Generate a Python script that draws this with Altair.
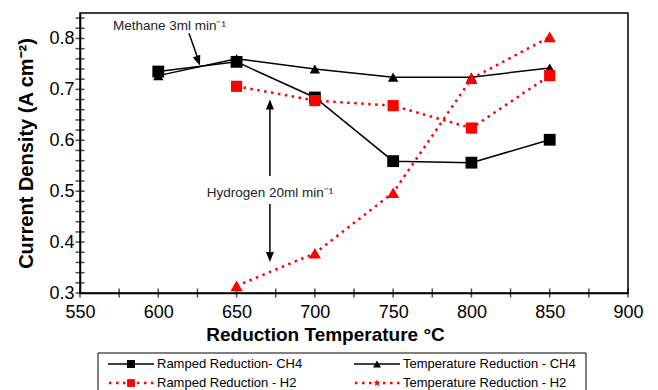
import altair as alt
import pandas as pd

FONT = "Liberation Sans"
RED = "#ff0000"

# ---- data ----
temps_ch4 = [600, 650, 700, 750, 800, 850]
ramped_ch4 = [0.735, 0.754, 0.684, 0.559, 0.556, 0.601]
temp_red_ch4 = [0.727, 0.760, 0.740, 0.724, 0.724, 0.742]
temps_h2 = [650, 700, 750, 800, 850]
ramped_h2 = [0.706, 0.678, 0.668, 0.624, 0.727]
temp_red_h2 = [0.314, 0.378, 0.497, 0.721, 0.803]

x_labels = [550, 600, 650, 700, 750, 800, 850, 900]
y_labels = [0.3, 0.4, 0.5, 0.6, 0.7, 0.8]
x_ticks = [550, 575, 600, 625, 650, 675, 700, 725, 750, 775, 800, 825, 850, 875, 900]
y_ticks = [0.30, 0.32, 0.34, 0.36, 0.38, 0.40, 0.42, 0.44, 0.46, 0.48, 0.50,
           0.52, 0.54, 0.56, 0.58, 0.60, 0.62, 0.64, 0.66, 0.68, 0.70,
           0.72, 0.74, 0.76, 0.78, 0.80, 0.82, 0.84]

legend_labels = ["Ramped Reduction- CH4", "Temperature Reduction - CH4",
                 "Ramped Reduction - H2", "Temperature Reduction - H2"]
legend_cols = [0, 1, 0, 1]
legend_rows = [0, 0, 1, 1]

methane_note = "Methane 3ml min\u207b\u00b9"
hydrogen_note = "Hydrogen 20ml min\u207b\u00b9"

# ---- styles ----
STAR = ("M0,-1L0.235,-0.324L0.951,-0.309L0.380,0.124L0.588,0.809L0,0.4"
        "L-0.588,0.809L-0.380,0.124L-0.951,-0.309L-0.235,-0.324Z")
legend_shape_styles = ["square", "triangle-up", "square", STAR]
legend_color_styles = ["black", "black", RED, RED]
legend_size_styles = [64, 60, 80, 120]
ARROW_UP = "M0,0L-0.4,1L0.4,1Z"

x_enc = alt.X("t:Q", scale=alt.Scale(domain=[550, 900], nice=False, zero=False),
              axis=alt.Axis(orient="bottom", values=x_labels, ticks=False, grid=False,
                            title="Reduction Temperature \u00b0C",
                            labelFontSize=18, labelPadding=10, labelFlush=False,
                            labelOverlap=False, titleFontSize=19, titleFontWeight="bold",
                            titlePadding=4, titleX=245))
y_enc = alt.Y("v:Q", scale=alt.Scale(domain=[0.3, 0.85], nice=False, zero=False),
              axis=alt.Axis(orient="left", values=y_labels, format=".1f", ticks=False, grid=False,
                            title="Current Density (A cm\u207b\u00b2)",
                            labelFontSize=18, labelPadding=6, labelFlush=False,
                            labelOverlap=False, titleFontSize=20, titleFontWeight="bold",
                            titlePadding=12))


def sdf(ts, vs):
    return pd.DataFrame({"t": ts, "v": vs})


def solid_line(df):
    return alt.Chart(df).mark_line(color="black", strokeWidth=1.5).encode(x=x_enc, y=y_enc)


def dotted_line(df):
    return alt.Chart(df).mark_line(color=RED, strokeWidth=2.5, strokeDash=[2.5, 4.5],
                                   strokeCap="butt").encode(x=x_enc, y=y_enc)


def pts(df, shape, color, size):
    return alt.Chart(df).mark_point(shape=shape, filled=True, color=color, size=size,
                                    opacity=1, strokeWidth=0).encode(x=x_enc, y=y_enc)


d_tc = sdf(temps_ch4, temp_red_ch4)
d_rc = sdf(temps_ch4, ramped_ch4)
d_rh = sdf(temps_h2, ramped_h2)
d_th = sdf(temps_h2, temp_red_h2)

# crossing ticks on the axes
yt = alt.Chart(pd.DataFrame({"t": [550] * len(y_ticks), "v": y_ticks})).mark_tick(
    orient="horizontal", size=9, thickness=1.5, color="black").encode(x=x_enc, y=y_enc)
xt = alt.Chart(pd.DataFrame({"t": x_ticks, "v": [0.3] * len(x_ticks)})).mark_tick(
    orient="vertical", size=9, thickness=1.5, color="black").encode(x=x_enc, y=y_enc)

# annotations
note_left = alt.Chart(pd.DataFrame({"t": [571], "v": [0.8235], "note": [methane_note]})).mark_text(
    align="left", baseline="middle", font=FONT, fontSize=13.5, color="#222").encode(
    x=x_enc, y=y_enc, text="note:N")
note_center = alt.Chart(pd.DataFrame({"t": [671.3], "v": [0.496], "note": [hydrogen_note]})).mark_text(
    align="center", baseline="middle", font=FONT, fontSize=13.5, color="#222").encode(
    x=x_enc, y=y_enc, text="note:N")

shafts = pd.DataFrame({"t": [619.6, 671.3, 671.3], "v": [0.810, 0.530, 0.475],
                       "t2": [625.8, 671.3, 671.3], "v2": [0.756, 0.672, 0.370]})
shaft = alt.Chart(shafts).mark_rule(color="black", strokeWidth=1.5).encode(
    x=x_enc, y=y_enc, x2="t2:Q", y2="v2:Q")
head_m = alt.Chart(sdf([626.6], [0.747])).mark_point(
    shape=ARROW_UP, angle=160, size=400, filled=True, color="black", opacity=1,
    strokeWidth=0).encode(x=x_enc, y=y_enc)
head_up = alt.Chart(sdf([671.3], [0.680])).mark_point(
    shape=ARROW_UP, angle=0, size=400, filled=True, color="black", opacity=1,
    strokeWidth=0).encode(x=x_enc, y=y_enc)
head_dn = alt.Chart(sdf([671.3], [0.361])).mark_point(
    shape=ARROW_UP, angle=180, size=400, filled=True, color="black", opacity=1,
    strokeWidth=0).encode(x=x_enc, y=y_enc)

main = alt.layer(
    xt, yt,
    solid_line(d_tc), solid_line(d_rc), dotted_line(d_rh), dotted_line(d_th),
    pts(d_tc, "triangle-up", "black", 110),
    pts(d_rc, "square", "black", 140),
    pts(d_rh, "square", RED, 125),
    pts(d_th, "triangle-up", RED, 150),
    shaft, head_m, head_up, head_dn, note_left, note_center,
)

# ---- legend below the plot ----
leg = pd.DataFrame({"entry": legend_labels, "col": legend_cols, "row": legend_rows})
lx = alt.X("col:Q", scale=alt.Scale(domain=[0, 1], range=[51, 297]), axis=None)
ly = alt.Y("row:Q", scale=alt.Scale(domain=[0, 1], range=[351, 370]), axis=None)

leg_solid = alt.Chart(leg).transform_filter("datum.row == 0").mark_rule(
    color="black", strokeWidth=1.5, xOffset=-23, x2Offset=23).encode(
    x=lx, x2="col:Q", y=ly)
leg_dot = alt.Chart(leg).transform_filter("datum.row == 1").mark_rule(
    color=RED, strokeWidth=2.5, strokeDash=[2.5, 4.5], strokeCap="butt",
    xOffset=-22, x2Offset=24).encode(x=lx, x2="col:Q", y=ly)
leg_pts = alt.Chart(leg).mark_point(filled=True, opacity=1, strokeWidth=0).encode(
    x=lx, y=ly,
    shape=alt.Shape("entry:N", scale=alt.Scale(domain=legend_labels, range=legend_shape_styles), legend=None),
    color=alt.Color("entry:N", scale=alt.Scale(domain=legend_labels, range=legend_color_styles), legend=None),
    size=alt.Size("entry:O", scale=alt.Scale(domain=legend_labels, range=legend_size_styles), legend=None),
)
leg_text = alt.Chart(leg).mark_text(align="left", baseline="middle", dx=26, font=FONT,
                                    fontSize=13, color="black").encode(
    x=lx, y=ly, text=alt.Text("entry:N"))
leg_box = alt.Chart(pd.DataFrame({"k": [0]})).mark_rect(
    fillOpacity=0, stroke="black", strokeWidth=1).encode(
    x=alt.value(18), x2=alt.value(506), y=alt.value(340), y2=alt.value(392))

legend_layer = alt.layer(leg_box, leg_solid, leg_dot, leg_pts, leg_text)

chart = alt.layer(main, legend_layer).resolve_scale(
    x="independent", y="independent"
).properties(
    width=548, height=280,
    autosize=alt.AutoSizeParams(type="none"),
    padding={"left": 72, "top": 5, "right": 22, "bottom": 105},
).configure_view(stroke="black", strokeWidth=1.5).configure_axis(
    domainColor="black", domainWidth=1.5, labelColor="black", titleColor="black",
    labelFont=FONT, titleFont=FONT,
).configure_text(font=FONT)

chart.save("out.html", embed_options={"renderer": "svg", "actions": False})
